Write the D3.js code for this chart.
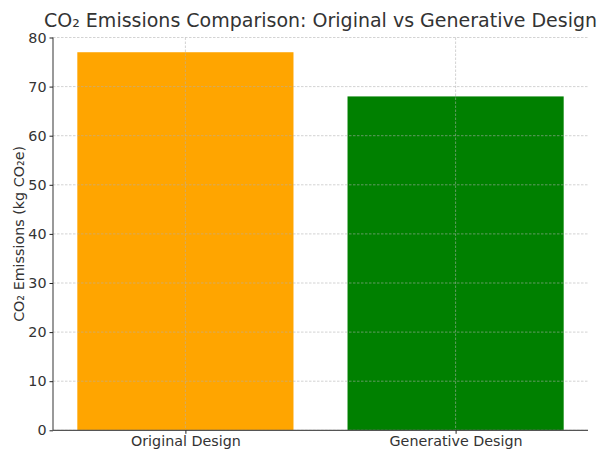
<!DOCTYPE html>
<html>
<head>
<meta charset="utf-8">
<script src="https://cdn.jsdelivr.net/npm/d3@7"></script>
<style>
  html, body { margin: 0; padding: 0; background: #fff; }
  svg { display: block; font-family: "DejaVu Sans", sans-serif; }
</style>
</head>
<body>
<svg id="chart" width="600" height="453"></svg>
<script>
// Emissions per design variant
const categories = ["Original Design", "Generative Design"];
const emissions = [77, 68];
const barColors = ["#FFA500", "#008000"];
const yTicks = [0, 10, 20, 30, 40, 50, 60, 70, 80];
const titleText = "CO\u2082 Emissions Comparison: Original vs Generative Design";
const yLabelText = "CO\u2082 Emissions (kg CO\u2082e)";

const W = 600, H = 453;
const margin = { top: 37.5, right: 12, bottom: 22.7, left: 53 };
const innerW = W - margin.left - margin.right;
const innerH = H - margin.top - margin.bottom;
const tickFont = "14.3px";

const svg = d3.select("#chart");
const g = svg.append("g").attr("transform", `translate(${margin.left},${margin.top})`);

// Categorical positions: bars 0.8 wide, 5% padding on each side
const x = d3.scaleLinear().domain([-0.49, categories.length - 1 + 0.49]).range([0, innerW]);
const y = d3.scaleLinear().domain([0, 80]).range([innerH, 0]);
const barW = x(0.4) - x(-0.4);

// Bars
g.selectAll("rect.bar")
  .data(emissions)
  .join("rect")
  .attr("class", "bar")
  .attr("x", (d, i) => x(i) - barW / 2)
  .attr("width", barW)
  .attr("y", d => y(d))
  .attr("height", d => y(0) - y(d))
  .attr("fill", (d, i) => barColors[i]);

// Dashed grid drawn above the bars
const grid = g.append("g").attr("stroke", "#b0b0b0").attr("stroke-opacity", 0.7)
  .attr("stroke-width", 0.8).attr("stroke-dasharray", "2.5,1.5");
grid.selectAll("line.h")
  .data(yTicks)
  .join("line")
  .attr("x1", 0).attr("x2", innerW)
  .attr("y1", d => y(d)).attr("y2", d => y(d));
grid.selectAll("line.v")
  .data(categories)
  .join("line")
  .attr("x1", (d, i) => x(i)).attr("x2", (d, i) => x(i))
  .attr("y1", 0).attr("y2", innerH);

// Axes
const axisColor = "#555";
const textColor = "#333";

const yAxis = g.append("g")
  .call(d3.axisLeft(y).tickValues(yTicks).tickSize(3.5).tickPadding(3).tickFormat(d3.format("d")));
const xAxis = g.append("g")
  .attr("transform", `translate(0,${innerH})`)
  .call(d3.axisBottom(x).tickValues(categories.map((c, i) => i)).tickSize(3.5).tickPadding(2)
    .tickFormat(i => categories[i]));

[yAxis, xAxis].forEach(a => {
  a.select(".domain").attr("stroke", axisColor).attr("stroke-width", 1.2);
  a.selectAll(".tick line").attr("stroke", "#222").attr("stroke-width", 1);
  a.selectAll(".tick text").attr("fill", textColor).style("font-size", tickFont)
    .style("font-family", "'DejaVu Sans', sans-serif");
});
// Spine lines without end caps
yAxis.select(".domain").attr("d", `M0,${innerH}V0`);
xAxis.select(".domain").attr("d", `M0,0H${innerW}`);

// Title
svg.append("text")
  .attr("x", margin.left + innerW / 2)
  .attr("y", 27)
  .attr("text-anchor", "middle")
  .attr("fill", textColor)
  .style("font-size", "19px")
  .text(titleText);

// Y axis label
svg.append("text")
  .attr("transform", `translate(24,${margin.top + innerH / 2}) rotate(-90)`)
  .attr("text-anchor", "middle")
  .attr("fill", textColor)
  .style("font-size", tickFont)
  .text(yLabelText);
</script>
</body>
</html>
